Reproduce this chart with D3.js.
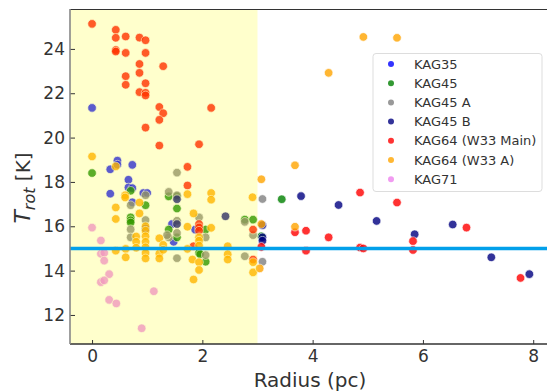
<!DOCTYPE html>
<html>
<head>
<meta charset="utf-8">
<script src="https://cdn.jsdelivr.net/npm/d3@7"></script>
<style>
  body { margin: 0; background: #fff; }
  svg { display: block; font-family: "DejaVu Sans", sans-serif; }
</style>
</head>
<body>
<svg id="chart" width="547" height="391"></svg>
<script>
// series: [radius (pc), T_rot (K)]
const kag35 = [[0, 21.34], [0.46, 18.96], [0.46, 18.78], [0.33, 18.57], [0.73, 18.77], [0.66, 18.1],
  [0.33, 17.47], [0.66, 17.75], [0.73, 17.72], [0.93, 17.5], [1.0, 17.5], [0.73, 17.08],
  [0.97, 15.9], [1.45, 16.1], [1.48, 15.3], [1.87, 15.85]]
const kag45 = [[0, 18.4], [0.7, 17.6], [0.97, 16.95], [0.7, 16.4], [0.7, 16.27], [0.7, 16.17],
  [1.39, 17.35], [1.54, 17.35], [1.54, 16.8], [1.39, 15.85], [1.54, 15.5], [1.94, 14.8],
  [2.06, 14.4], [2.06, 15.85], [1.96, 14.74], [2.77, 16.3], [2.92, 16.3], [3.07, 15.55], [3.44, 17.22]]
const kag45A = [[1.54, 18.42], [1.39, 17.55], [1.54, 17.4], [0.7, 16.95], [0.97, 17.4], [0.7, 15.86],
  [0.7, 15.5], [0.97, 16.28], [1.39, 15.5], [1.54, 16.25], [1.54, 15.7], [1.54, 14.56],
  [1.36, 15.6], [1.94, 16.4], [2.06, 14.7], [2.06, 15.5], [2.77, 16.2], [2.77, 14.65],
  [2.92, 15.6], [3.09, 17.23], [3.09, 14.4]]
const kag45B = [[1.54, 17.22], [1.54, 16.1], [2.42, 16.45], [3.09, 16.05], [3.09, 15.5], [3.09, 15.35],
  [3.79, 17.36], [4.47, 16.96], [5.16, 16.24], [5.85, 15.64], [6.54, 16.08], [7.24, 14.6], [7.93, 13.84]]
const kag64Main = [[0, 25.13], [0.43, 24.86], [0.43, 24.5], [0.61, 24.56], [0.86, 24.51], [0.97, 24.39],
  [0.43, 23.95], [0.43, 23.88], [0.61, 23.82], [0.97, 23.82], [0.86, 23.32], [1.29, 23.22],
  [0.86, 22.92], [0.61, 22.77], [0.61, 22.38], [0.97, 22.45], [0.86, 22.05], [0.97, 22.02],
  [0.97, 21.9], [1.22, 21.38], [2.16, 21.34], [1.29, 21.1], [1.22, 20.8], [0.97, 20.45],
  [1.22, 19.64], [1.94, 19.7], [1.73, 18.68], [1.73, 17.84], [1.94, 16.1], [1.94, 15.95],
  [1.94, 15.8], [1.84, 15.1], [2.92, 15.85], [2.92, 14.5], [3.07, 15.07], [3.68, 15.73],
  [3.88, 15.8], [3.88, 14.9], [4.29, 15.5], [4.86, 17.52], [4.86, 15.04], [4.92, 15.0],
  [5.53, 17.07], [5.82, 15.33], [5.82, 14.93], [6.79, 15.94], [7.77, 13.67]]
const kag64A = [[0, 19.15], [0.43, 18.7], [3.07, 18.12], [0.6, 17.4], [0.6, 17.3], [1.73, 17.45],
  [2.16, 17.5], [2.16, 17.2], [2.91, 17.31], [0.86, 17.07], [0.43, 16.85], [0.43, 16.33],
  [0.86, 16.58], [0.97, 16.0], [0.97, 15.8], [0.97, 15.55], [0.97, 15.3], [0.97, 15.05],
  [0.97, 14.8], [0.97, 14.55], [0.8, 15.54], [0.8, 15.3], [0.8, 15.03], [0.43, 14.9],
  [0.61, 14.98], [0.61, 14.6], [1.22, 15.46], [1.22, 14.77], [1.22, 14.55], [1.29, 15.16],
  [1.29, 14.94], [1.73, 15.98], [1.73, 14.98], [1.82, 14.5], [1.84, 13.6], [1.84, 16.58],
  [1.94, 15.5], [1.94, 15.35], [1.94, 15.13], [1.94, 14.38], [1.94, 14.03], [2.16, 15.93],
  [2.46, 15.1], [2.46, 14.74], [2.46, 14.5], [2.92, 14.38], [2.92, 13.92], [3.04, 14.1],
  [3.07, 16.1], [3.68, 15.98], [3.68, 18.75], [4.29, 22.92], [4.92, 24.54], [5.53, 24.5]]
const kag71 = [[0, 15.94], [0.16, 15.36], [0.16, 14.76], [0.22, 14.8], [0.22, 14.45], [0.31, 13.84],
  [0.16, 13.48], [0.22, 13.56], [0.31, 12.68], [0.44, 12.52], [0.9, 11.4], [1.12, 13.07]]

const seriesNames = ['KAG35', 'KAG45', 'KAG45 A', 'KAG45 B', 'KAG64 (W33 Main)', 'KAG64 (W33 A)', 'KAG71']
const seriesData = [kag35, kag45, kag45A, kag45B, kag64Main, kag64A, kag71]
const seriesColors = ['blue', 'green', 'gray', 'navy', 'red', 'orange', 'violet']

const xTicks = [0, 2, 4, 6, 8]
const yTicks = [12, 14, 16, 18, 20, 22, 24]
const refTemp = 15      // horizontal reference line
const innerRadius = 3   // shaded region edge (pc)

const margin = { left: 70, top: 9, right: 0, bottom: 47 }
const width = 547, height = 391

const svg = d3.select('#chart')

const x = d3.scaleLinear().domain([-0.4, 8.25]).range([margin.left, width - margin.right])
const y = d3.scaleLinear().domain([10.69, 25.8]).range([height - margin.bottom, margin.top])

svg.append('clipPath').attr('id', 'clip')
  .append('rect')
  .attr('x', margin.left).attr('y', margin.top)
  .attr('width', width - margin.left - margin.right)
  .attr('height', height - margin.top - margin.bottom)

const plot = svg.append('g').attr('clip-path', 'url(#clip)')

seriesData.forEach((pts, i) => {
  plot.append('g')
    .selectAll('circle')
    .data(pts)
    .enter()
    .append('circle')
    .attr('cx', d => x(d[0]))
    .attr('cy', d => y(d[1]))
    .attr('r', 4.3)
    .attr('fill', seriesColors[i])
    .attr('stroke', '#fff')
    .attr('stroke-width', 0.7)
    .attr('opacity', 0.8)
})

// yellow span laid over the points
plot.append('rect')
  .attr('x', x(-0.4))
  .attr('y', margin.top)
  .attr('width', x(innerRadius) - x(-0.4))
  .attr('height', height - margin.top - margin.bottom)
  .attr('fill', 'rgb(255,255,0)')
  .attr('fill-opacity', 0.2)

plot.append('line')
  .attr('x1', margin.left).attr('x2', width)
  .attr('y1', y(refTemp)).attr('y2', y(refTemp))
  .attr('stroke', '#02a0ea')
  .attr('stroke-width', 3.5)

// axes, ticks pointing inward
const xAxis = svg.append('g')
  .attr('transform', `translate(0,${height - margin.bottom})`)
  .call(d3.axisBottom(x).tickValues(xTicks).tickSize(-4).tickPadding(6).tickFormat(d3.format('d')))
const yAxis = svg.append('g')
  .attr('transform', `translate(${margin.left},0)`)
  .call(d3.axisLeft(y).tickValues(yTicks).tickSize(-5).tickPadding(5).tickFormat(d3.format('d')))

;[xAxis, yAxis].forEach(a => {
  a.select('.domain').remove()
  a.selectAll('.tick line').attr('stroke', '#333').attr('stroke-width', 1)
  a.selectAll('.tick text').attr('fill', '#333').style('font-size', '17px')
    .style('font-family', '"DejaVu Sans", sans-serif')
})

// spines
svg.append('line').attr('x1', margin.left).attr('x2', width).attr('y1', margin.top + 0.5).attr('y2', margin.top + 0.5)
  .attr('stroke', '#333').attr('stroke-width', 1.2)
svg.append('line').attr('x1', margin.left).attr('x2', width)
  .attr('y1', height - margin.bottom).attr('y2', height - margin.bottom)
  .attr('stroke', '#333').attr('stroke-width', 1.6)
svg.append('line').attr('x1', margin.left).attr('x2', margin.left)
  .attr('y1', margin.top).attr('y2', height - margin.bottom)
  .attr('stroke', '#888').attr('stroke-width', 1.6)

// axis labels
svg.append('text')
  .attr('x', 310).attr('y', 387)
  .attr('text-anchor', 'middle')
  .attr('fill', '#333')
  .style('font-size', '20px')
  .text('Radius (pc)')

const yLabel = svg.append('text')
  .attr('transform', 'translate(30,188) rotate(-90)')
  .attr('text-anchor', 'middle')
  .attr('fill', '#333')
  .style('font-size', '20px')
yLabel.append('tspan').style('font-style', 'italic').style('font-size', '22px').text('T')
yLabel.append('tspan').style('font-style', 'italic').style('font-size', '16px').attr('dy', 5).text('rot')
yLabel.append('tspan').attr('dy', -5).text('\u00a0[K]')

// legend
const legend = svg.append('g')
legend.append('rect')
  .attr('x', 373).attr('y', 53.5).attr('width', 169).attr('height', 138).attr('rx', 3)
  .attr('fill', '#fff').attr('fill-opacity', 0.8)
  .attr('stroke', '#ddd').attr('stroke-width', 1)
seriesNames.forEach((name, i) => {
  const ly = 64 + i * 19.2
  legend.append('circle')
    .attr('cx', 391).attr('cy', ly).attr('r', 3)
    .attr('fill', seriesColors[i]).attr('opacity', 0.8)
  legend.append('text')
    .attr('x', 414).attr('y', ly)
    .attr('dy', '0.36em')
    .attr('fill', '#333')
    .style('font-size', '13px')
    .text(name)
})
</script>
</body>
</html>
